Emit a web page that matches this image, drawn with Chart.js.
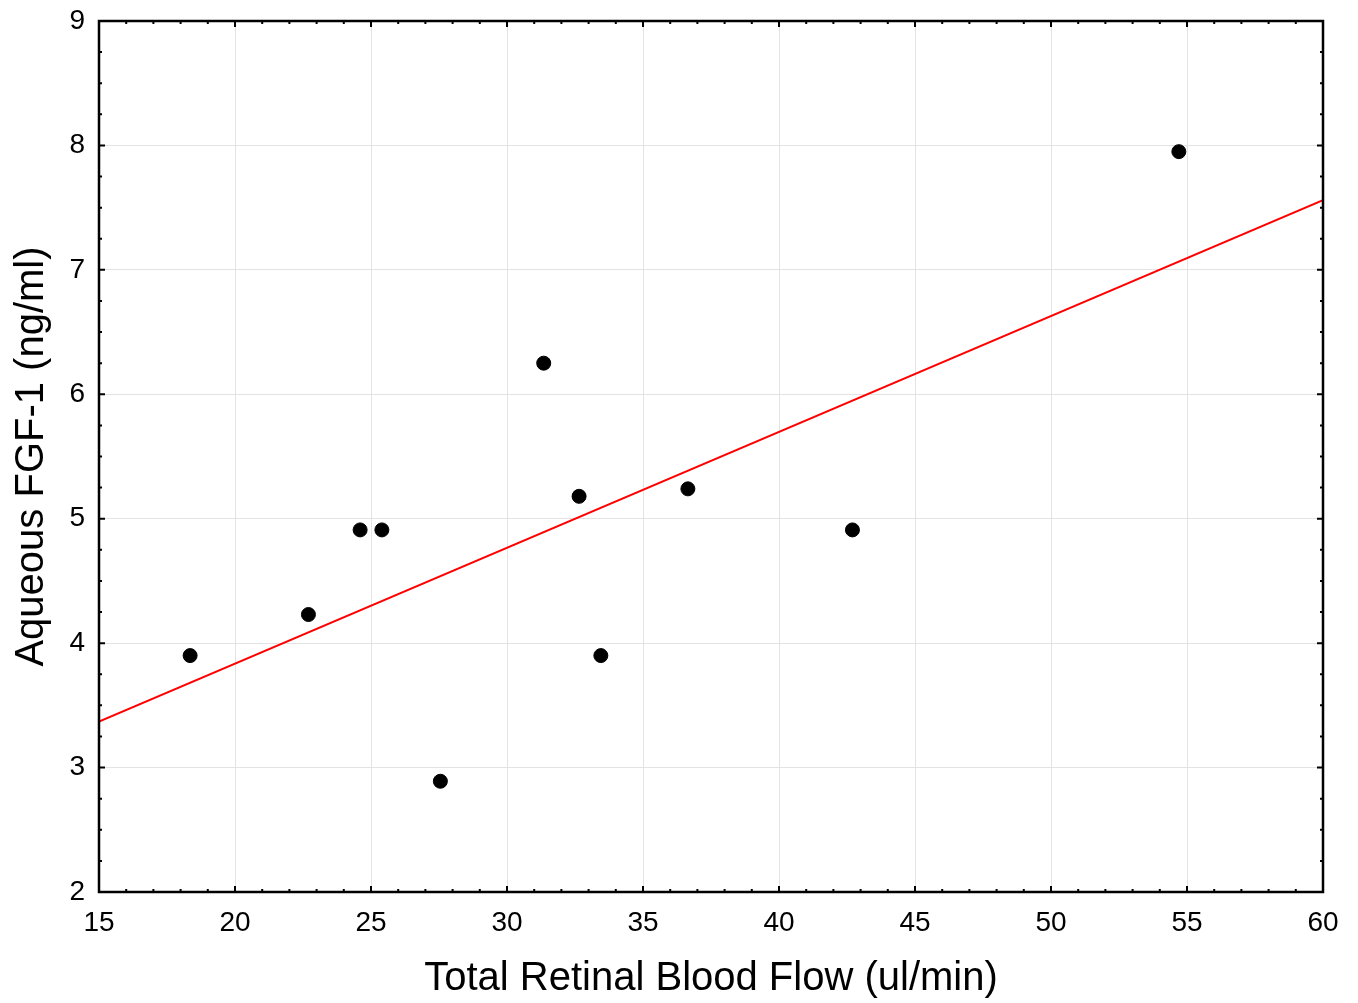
<!DOCTYPE html>
<html>
<head>
<meta charset="utf-8">
<script src="https://cdn.jsdelivr.net/npm/chart.js@4.4.1/dist/chart.umd.min.js"></script>
<style>
  body { margin: 0; background: #fff; }
  #wrap { width: 1358px; height: 1003px; }
</style>
</head>
<body>
<div id="wrap"><canvas id="grafico" width="1358" height="1003"></canvas></div>
<script>
// valores
var bloodFlow = [18.35, 22.7, 24.6, 25.4, 27.55, 31.35, 32.65, 33.45, 36.65, 42.7, 54.7]
var fgf1 = [3.90, 4.23, 4.91, 4.91, 2.89, 6.25, 5.18, 3.90, 5.24, 4.91, 7.95]

// reta de regressao (extremos do eixo)
var fitX = [15, 60]
var fitY = [3.37, 7.56]

var xTitle = 'Total Retinal Blood Flow (ul/min)'
var yTitle = 'Aqueous FGF-1 (ng/ml)'

var fonte = '"Liberation Sans", Arial, sans-serif'

// desenha a moldura e os ticks para dentro, como no original
var molduraPlugin = {
  id: 'moldura',
  afterDraw: function(chart) {
    var ctx = chart.ctx
    var a = chart.chartArea
    var sx = chart.scales.x
    var sy = chart.scales.y
    ctx.save()
    ctx.strokeStyle = '#000'
    ctx.lineWidth = 2
    ctx.beginPath()
    for (var v = 15; v <= 60; v += 1) {
      var px = sx.getPixelForValue(v)
      var len = v % 5 === 0 ? 6 : 3
      ctx.moveTo(px, a.bottom); ctx.lineTo(px, a.bottom - len)
      ctx.moveTo(px, a.top); ctx.lineTo(px, a.top + len)
    }
    for (var w = 2; w <= 9.001; w += 0.25) {
      var py = sy.getPixelForValue(w)
      var len2 = Math.abs(w - Math.round(w)) < 0.01 ? 6 : 3
      ctx.moveTo(a.left, py); ctx.lineTo(a.left + len2, py)
      ctx.moveTo(a.right, py); ctx.lineTo(a.right - len2, py)
    }
    ctx.stroke()
    ctx.lineWidth = 2.5
    ctx.strokeRect(a.left, a.top, a.right - a.left, a.bottom - a.top)
    ctx.restore()
  }
}

var ctx = document.getElementById('grafico')
var grafico = new Chart(ctx, {
  type: 'scatter',
  data: {
    datasets: [{
      label: 'FGF-1',
      data: bloodFlow.map(function(x, i) { return { x: x, y: fgf1[i] } }),
      backgroundColor: '#000',
      borderColor: '#000',
      pointRadius: 7,
      pointHoverRadius: 7,
      order: 1
    }, {
      type: 'line',
      label: 'fit',
      data: fitX.map(function(x, i) { return { x: x, y: fitY[i] } }),
      borderColor: '#ff0000',
      borderWidth: 2,
      pointRadius: 0,
      fill: false,
      order: 2
    }]
  },
  options: {
    responsive: false,
    animation: false,
    layout: { padding: { top: 21, right: 35, left: 0, bottom: 0 } },
    plugins: {
      legend: { display: false },
      tooltip: { enabled: false }
    },
    scales: {
      x: {
        type: 'linear',
        min: 15,
        max: 60,
        afterFit: function(s) {
          s.height = 111
          s.paddingLeft = 0
          s.paddingRight = 0
        },
        ticks: {
          stepSize: 5,
          color: '#000',
          padding: 14,
          font: { family: fonte, size: 28 }
        },
        grid: { color: '#e3e3e3', lineWidth: 1, drawTicks: false },
        border: { display: false },
        title: {
          display: true,
          text: xTitle,
          color: '#000',
          padding: { top: 8, bottom: 0 },
          font: { family: fonte, size: 40 }
        }
      },
      y: {
        type: 'linear',
        min: 2,
        max: 9,
        afterFit: function(s) {
          s.width = 99
          s.paddingTop = 0
          s.paddingBottom = 0
        },
        ticks: {
          stepSize: 1,
          color: '#000',
          padding: 14,
          font: { family: fonte, size: 28 }
        },
        grid: { color: '#e3e3e3', lineWidth: 1, drawTicks: false },
        border: { display: false },
        title: {
          display: true,
          text: yTitle,
          color: '#000',
          padding: { top: 8, bottom: 10 },
          font: { family: fonte, size: 40 }
        }
      }
    }
  },
  plugins: [molduraPlugin]
})
</script>
</body>
</html>
